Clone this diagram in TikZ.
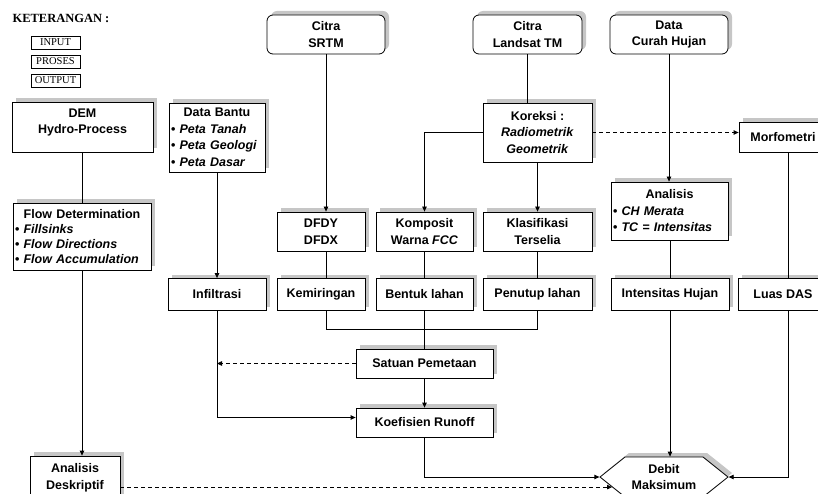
\documentclass[tikz,border=0pt]{standalone}
\usepackage{fontspec}
\setmainfont{Liberation Sans}
\newfontfamily\legendfont{Liberation Serif}
\usepackage{tikz}
\usetikzlibrary{shapes, arrows.meta, positioning, shadows}

\tikzset{
	box/.style={draw, line width=0.8pt, fill=white, align=center, inner sep=2pt,
		font=\bfseries\fontsize{12.5}{16.5}\selectfont,
		drop shadow={shadow xshift=4pt, shadow yshift=4pt, fill=gray!45, opacity=1}},
	inbox/.style={box, rounded corners=6pt},
	listbox/.style={box, align=left, text width=#1},
	legbox/.style={draw, line width=0.6pt, minimum width=49pt, minimum height=13pt, inner sep=0pt,
		font=\legendfont\fontsize{10.5}{11}\selectfont},
	line/.style={line width=0.8pt},
	dashline/.style={line width=0.8pt, dash pattern=on 4pt off 3pt},
	>={Triangle[length=5pt,width=4.5pt]}
}

\begin{document}
\begin{tikzpicture}[x=1pt, y=-1pt]
			\useasboundingbox (0,0) rectangle (818,494);
			
			% 图例
			\node[font=\legendfont\bfseries\fontsize{12.5}{14}\selectfont, anchor=west] (ket) at (9,18) {KETERANGAN :};
			\node[legbox] (lin) at (55.5,42.5) {INPUT};
			\node[legbox] (lpr) at (55.5,61.5) {PROSES};
			\node[legbox] (lout) at (55.5,80.5) {OUTPUT};
			
			% 输入
			\node[inbox, minimum width=118pt, minimum height=39pt] (srtm) at (326,34.5) {Citra\\SRTM};
			\node[inbox, minimum width=109pt, minimum height=39pt] (landsat) at (527.5,34.5) {Citra\\Landsat TM};
			\node[inbox, minimum width=118pt, minimum height=39pt] (hujan) at (669,34.5) {Data\\Curah Hujan};
			
			% 处理
			\node[box, minimum width=141pt, minimum height=50pt] (dem) at (82.5,127) {DEM\\Hydro-Process\rule[-12pt]{0pt}{1pt}};
			\node[listbox=92pt, minimum height=69pt] (bantu) at (217,137.5)
				{\makebox[\linewidth]{Data Bantu}\\ \textbullet\ \textit{Peta Tanah}\\ \textbullet\ \textit{Peta Geologi}\\ \textbullet\ \textit{Peta Dasar}};
			\node[box, minimum width=109pt, minimum height=59pt] (koreksi) at (537.5,132.5) {Koreksi :\\\textit{Radiometrik}\\\textit{Geometrik}};
			\node[box, minimum width=88pt, minimum height=30pt] (morfo) at (783,137) {Morfometri};
			\node[listbox=134pt, minimum height=67pt, font=\bfseries\fontsize{12.5}{15}\selectfont] (flow) at (82,236.5)
				{\makebox[\linewidth]{Flow Determination}\\ \textbullet\ \textit{Fillsinks}\\ \textbullet\ \textit{Flow Directions}\\ \textbullet\ \textit{Flow Accumulation}};
			\node[listbox=113pt, minimum height=58pt] (analisis) at (669.5,211)
				{\makebox[\linewidth]{Analisis}\\ \textbullet\ \textit{CH Merata}\\ \textbullet\ \textit{TC = Intensitas}};
			\node[box, minimum width=88pt, minimum height=39pt] (dfd) at (321,231.5) {DFDY\\DFDX};
			\node[box, minimum width=97pt, minimum height=39pt] (komposit) at (424.5,231.5) {Komposit\\Warna \textit{FCC}};
			\node[box, minimum width=109pt, minimum height=39pt] (klasif) at (537.5,231.5) {Klasifikasi\\Terselia};
			
			% 中间结果
			\node[box, minimum width=98pt, minimum height=32pt] (infil) at (217,294.5) {Infiltrasi};
			\node[box, minimum width=88pt, minimum height=32pt] (kemir) at (321,294.5) {Kemiringan};
			\node[box, minimum width=97pt, minimum height=32pt] (bentuk) at (424.5,294.5) {Bentuk lahan};
			\node[box, minimum width=109pt, minimum height=32pt] (penutup) at (537.5,294.5) {Penutup lahan};
			\node[box, minimum width=118pt, minimum height=32pt] (intens) at (670,294.5) {Intensitas Hujan};
			\node[box, minimum width=90pt, minimum height=32pt] (luas) at (783,294.5) {Luas DAS};
			\node[box, minimum width=137pt, minimum height=29pt] (satuan) at (424.5,363.5) {Satuan Pemetaan};
			\node[box, minimum width=137pt, minimum height=29pt] (koef) at (424.5,422.5) {Koefisien Runoff};
			
			% 输出
			\node[box, shape=signal, signal to=west and east, signal pointer angle=77.3,
				inner sep=0pt, minimum width=128pt, minimum height=40pt] (debit) at (664,477) {Debit\\Maksimum};
			\node[box, minimum width=90pt, minimum height=44pt] (desk) at (75,478) {Analisis\\Deskriptif};
			
			\coordinate (bus) at (0,329);
			
			% 连线
			\draw[line] (dem.south) -- (dem.south |- flow.north);
			\draw[line, ->] (flow.south) -- (flow.south |- desk.north);
			\draw[line, ->] (bantu) -- (infil);
			\draw[line, ->] (infil.south) |- ([yshift=5pt]koef.west);
			\draw[line, ->] (srtm.south) -- (srtm.south |- dfd.north);
			\draw[line] (dfd.south -| srtm.south) -- (kemir.north -| srtm.south);
			\draw[line] (landsat.south) -- (landsat.south |- koreksi.north);
			\draw[line, ->] (koreksi.west) -| (komposit.north);
			\draw[line, ->] (koreksi) -- (klasif);
			\draw[dashline, ->] (koreksi.east) -- (koreksi.east -| morfo.west);
			\draw[line, ->] (hujan.south) -- (hujan.south |- analisis.north);
			\draw[line] (komposit) -- (bentuk);
			\draw[line] (klasif) -- (penutup);
			\draw[line] (analisis.south -| intens.north) -- (intens.north);
			\draw[line] ([xshift=5pt]morfo.south) -- ([xshift=5pt]luas.north);
			\draw[line] (kemir.south -| srtm.south) |- (bus -| penutup.south) -- (penutup.south);
			\draw[line] (bentuk) -- (satuan);
			\draw[line, ->] (satuan) -- (koef);
			\draw[dashline, ->] (satuan.west) -- (satuan.west -| infil.south);
			\draw[line, ->] (koef.south) |- (debit.west);
			\draw[line, ->] (intens.south) -- (intens.south |- debit.north);
			\draw[line, ->] ([xshift=5pt]luas.south) |- (debit.east);
			\draw[dashline, ->] (desk.east |- debit.191) -- (debit.191);
		\end{tikzpicture}
\end{document}
